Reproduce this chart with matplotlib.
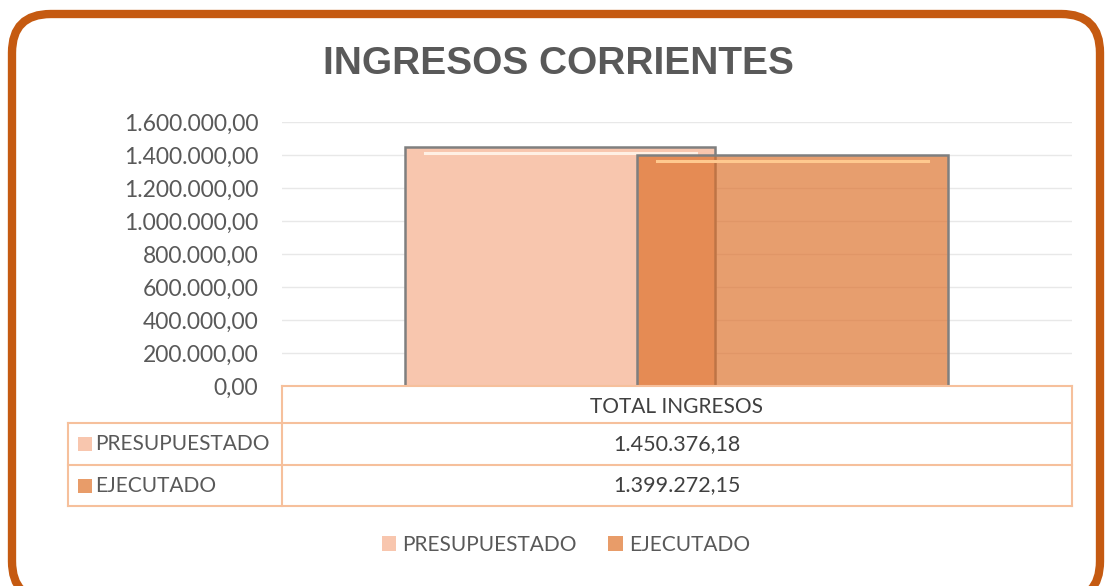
import matplotlib.pyplot as plt
from matplotlib.patches import FancyBboxPatch, Rectangle
from matplotlib.lines import Line2D
from matplotlib.ticker import FuncFormatter

# Data
category = 'TOTAL INGRESOS'
series = ['PRESUPUESTADO', 'EJECUTADO']
values = [1450376.18, 1399272.15]
colors = ['#F8C6AE', '#E89C69']
yticks = [0, 200000, 400000, 600000, 800000, 1000000, 1200000, 1400000, 1600000]

W, H = 1108, 586
fig = plt.figure(figsize=(W / 100, H / 100), dpi=100)
plt.rcParams['font.family'] = ['Lato', 'DejaVu Sans']


def fx(px):
    return px / W


def fy(py):
    return 1 - py / H


def es_num(v, pos=None):
    s = f'{v:,.2f}'
    return s.replace(',', '#').replace('.', ',').replace('#', '.')


# Rounded orange frame
frame = FancyBboxPatch((fx(12), fy(600)), fx(1088), fy(14) - fy(600),
                       boxstyle='round,pad=0,rounding_size=0.035',
                       transform=fig.transFigure, facecolor='white',
                       edgecolor='#C55A11', linewidth=6, zorder=-1,
                       mutation_aspect=W / H)
fig.patches.append(frame)

fig.text(fx(558), fy(64), 'INGRESOS CORRIENTES', ha='center', va='center',
         fontsize=28, fontweight='bold', color='#595959',
         family=['Liberation Sans', 'DejaVu Sans'])

# Axes
x0, x1, ytop, ybot = 282, 1072, 122, 386
ax = fig.add_axes([fx(x0), fy(ybot), fx(x1 - x0), fy(ytop) - fy(ybot)])
ax.set_facecolor('none')
ax.set_xlim(-0.5, 0.5)
ax.set_ylim(0, 1600000)
ax.set_yticks(yticks)
ax.yaxis.set_major_formatter(FuncFormatter(es_num))
ax.tick_params(axis='y', length=0, pad=17, labelsize=16.5, labelcolor='#595959')
ax.set_xticks([])
ax.grid(axis='y', color='#E8E8E8', linewidth=1)
ax.set_axisbelow(True)
for s in ax.spines.values():
    s.set_visible(False)

offsets = [-0.148, 0.146]
width = 0.393
# second bar is drawn semi-transparent so the overlap comes out darker
draw_colors = ['#F8C6AE', '#DD702A']
alphas = [1.0, 0.68]
highlights = ['#FFF0E4', '#FFC98F']
for i, (name, v) in enumerate(zip(series, values)):
    ax.bar(offsets[i], v, width=width, color=draw_colors[i], alpha=alphas[i],
           edgecolor='none', zorder=2 + i)
    ax.bar(offsets[i], v, width=width, color='none', edgecolor='#7F7F7F',
           linewidth=1.8, zorder=2 + i)
    # bevel highlight near the top
    ax.plot([offsets[i] - width / 2 + 0.025, offsets[i] + width / 2 - 0.025],
            [v * 0.975, v * 0.975], color=highlights[i], linewidth=2.2,
            zorder=2 + i)

# Data table under the chart
line_c = '#F6C09C'
rows_y = [386, 423, 465, 506]
tl, tm, tr = 68, 282, 1072
fig.add_artist(Line2D([fx(tm), fx(tr)], [fy(386), fy(386)], color=line_c, lw=1.5))
for y in rows_y[1:]:
    fig.add_artist(Line2D([fx(tl), fx(tr)], [fy(y), fy(y)], color=line_c, lw=1.5))
fig.add_artist(Line2D([fx(tm), fx(tm)], [fy(386), fy(506)], color=line_c, lw=1.5))
fig.add_artist(Line2D([fx(tr), fx(tr)], [fy(386), fy(506)], color=line_c, lw=1.5))
fig.add_artist(Line2D([fx(tl), fx(tl)], [fy(423), fy(506)], color=line_c, lw=1.5))

fig.text(fx((tm + tr) / 2), fy(407), category, ha='center', va='center',
         fontsize=15, color='#404040')
for i, (name, v) in enumerate(zip(series, values)):
    yc = (rows_y[i + 1] + rows_y[i + 2]) / 2
    fig.patches.append(Rectangle((fx(78), fy(yc + 7)), fx(14), fy(yc - 7) - fy(yc + 7),
                                 transform=fig.transFigure, facecolor=colors[i],
                                 edgecolor='none'))
    fig.text(fx(95), fy(yc), name, ha='left', va='center', fontsize=15,
             color='#595959')
    fig.text(fx((tm + tr) / 2), fy(yc), es_num(v), ha='center', va='center',
             fontsize=15.5, color='#404040')

# Legend
handles = [Rectangle((0, 0), 1, 1, facecolor=c, edgecolor='none') for c in colors]
fig.legend(handles, series, loc='center', bbox_to_anchor=(fx(566), fy(545)),
           ncol=2, frameon=False, fontsize=15, handlelength=0.7,
           handleheight=0.7, handletextpad=0.3, columnspacing=1.5,
           labelcolor='#595959')

fig.savefig('out.png', dpi=100)
